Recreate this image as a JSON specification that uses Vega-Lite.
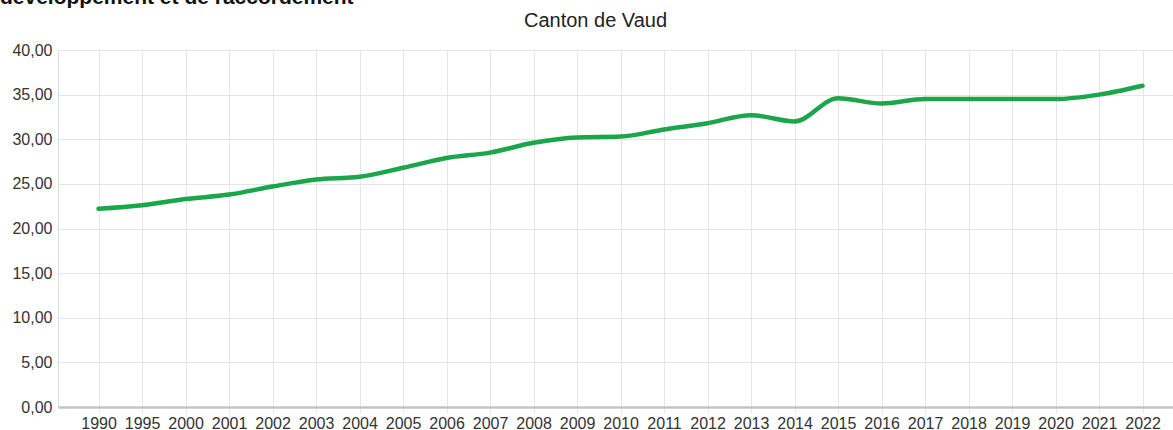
{
  "$schema": "https://vega.github.io/schema/vega-lite/v6.json",
  "autosize": {"type": "none"},
  "width": 1115,
  "height": 357,
  "padding": {"left": 58, "top": 50, "right": 0, "bottom": 23},
  "background": "white",
  "title": {
    "text": "développement et de raccordement",
    "anchor": "start",
    "frame": "group",
    "dx": -58,
    "dy": -2,
    "offset": 0,
    "font": "Liberation Sans",
    "fontSize": 21,
    "fontWeight": "bold",
    "color": "#111111"
  },
  "data": {
    "values": [
      {"year": "1990", "value": 22.2},
      {"year": "1995", "value": 22.6},
      {"year": "2000", "value": 23.3},
      {"year": "2001", "value": 23.8},
      {"year": "2002", "value": 24.7},
      {"year": "2003", "value": 25.5},
      {"year": "2004", "value": 25.8},
      {"year": "2005", "value": 26.8},
      {"year": "2006", "value": 27.9},
      {"year": "2007", "value": 28.5},
      {"year": "2008", "value": 29.6},
      {"year": "2009", "value": 30.2},
      {"year": "2010", "value": 30.3},
      {"year": "2011", "value": 31.1},
      {"year": "2012", "value": 31.8},
      {"year": "2013", "value": 32.7},
      {"year": "2014", "value": 32.0},
      {"year": "2015", "value": 34.6},
      {"year": "2016", "value": 34.0},
      {"year": "2017", "value": 34.5},
      {"year": "2018", "value": 34.5},
      {"year": "2019", "value": 34.5},
      {"year": "2020", "value": 34.5},
      {"year": "2021", "value": 35.0},
      {"year": "2022", "value": 36.0}
    ]
  },
  "layer": [
    {
      "mark": {"type": "line", "interpolate": "monotone", "color": "#1ca64c", "strokeWidth": 4.5, "strokeCap": "round", "strokeJoin": "round"},
      "encoding": {
        "x": {
          "field": "year",
          "type": "ordinal",
          "sort": null,
          "scale": {"type": "point", "padding": 0.816, "align": 0.571},
          "axis": {
            "orient": "bottom",
            "title": null,
            "labelAngle": 0,
            "labelFont": "Liberation Sans",
            "labelFontSize": 16,
            "labelColor": "#333333",
            "labelPadding": 2,
            "grid": true,
            "gridColor": "#e5e5e5",
            "gridWidth": 1,
            "ticks": true,
            "tickSize": 6,
            "tickColor": "#e5e5e5",
            "domain": true,
            "domainColor": "#c4c4c4",
            "domainWidth": 2.5
          }
        },
        "y": {
          "field": "value",
          "type": "quantitative",
          "scale": {"domain": [0, 40], "nice": false, "zero": true},
          "axis": {
            "title": null,
            "values": [0, 5, 10, 15, 20, 25, 30, 35, 40],
            "labelExpr": "replace(format(datum.value, '.2f'), '.', ',')",
            "labelFont": "Liberation Sans",
            "labelFontSize": 16,
            "labelColor": "#333333",
            "labelPadding": 6,
            "ticks": false,
            "domain": false,
            "grid": true,
            "gridColor": "#e5e5e5",
            "gridWidth": 1
          }
        }
      }
    },
    {
      "mark": {"type": "line", "opacity": 0},
      "encoding": {
        "x": {
          "field": "year",
          "type": "ordinal",
          "sort": null,
          "axis": {
            "orient": "top",
            "title": "Canton de Vaud",
            "titleFont": "Liberation Sans",
            "titleFontSize": 20,
            "titleFontWeight": "normal",
            "titleColor": "#222222",
            "titlePadding": 20,
            "titleX": 537,
            "titleAlign": "center",
            "labels": false,
            "ticks": false,
            "domain": false,
            "grid": false
          }
        },
        "y": {"field": "value", "type": "quantitative"}
      }
    }
  ]
}
